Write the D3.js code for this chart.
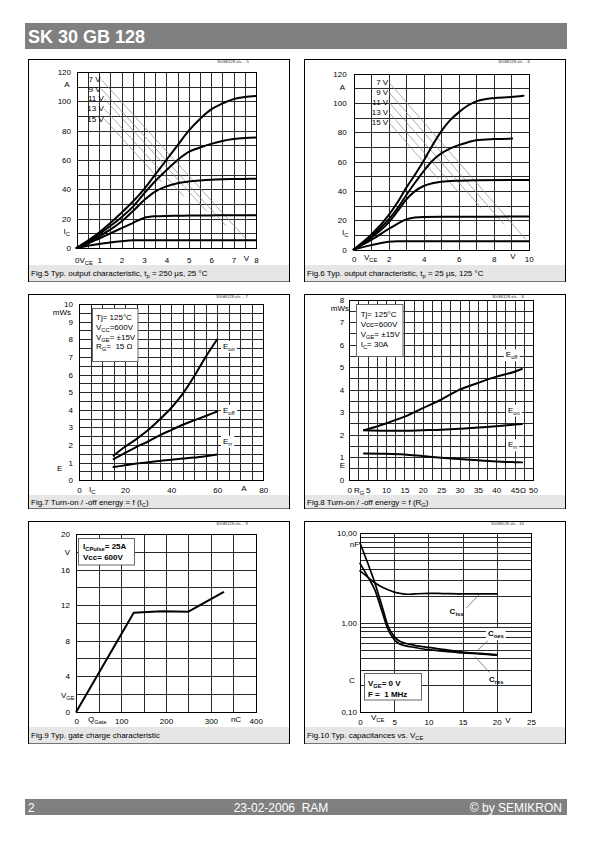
<!DOCTYPE html>
<html><head><meta charset="utf-8">
<script src="https://cdn.jsdelivr.net/npm/d3@7"></script>
<style>body{margin:0;background:#fff}svg{display:block}</style>
</head><body>
<script>
// ---------------- DATA ----------------
// Fig.5 output characteristic 25 °C
const fig5Vce = [0,0.5,1,1.5,2,2.5,3,3.5,4,4.5,5,5.5,6,6.5,7,7.5,8];
const fig5Ic15 = [0,5,10.5,17,24,31.5,40,50,60,70,80,88,94.5,98.5,101.5,103,103.7];
const fig5Ic13 = [0,4.5,9.5,15,21,28,37,45.5,53,60,65.5,68.5,71,73,74.3,75,75.3];
const fig5Ic11 = [0,4,8,12.5,18,25,32.5,38.5,42,44.2,45.3,46,46.5,46.8,47,47.1,47.2];
const fig5Ic9  = [0,3,6.5,10,13.5,17,20.5,21.6,21.9,22,22.1,22.2,22.2,22.3,22.3,22.4,22.4];
const fig5Ic7  = [0,1.5,2.8,3.8,4.6,5.2,5.3,5.3,5.3,5.3,5.3,5.3,5.3,5.3,5.3,5.3,5.3];
const fig5LeadLabels = ["7 V","9 V","11 V","13 V","15 V"];
const fig5LeadStartV = [1.09,1.09,1.23,1.23,1.23];
const fig5LeadStartA = [115,108.6,101.8,95,88.1];
const fig5LeadEndV = [7.6,6.67,5.8,4.79,3.79];
const fig5LeadEndA = [5.5,15,25,35,45];
const fig5XTicks = [0,1,2,3,4,5,6,7,8];
const fig5YTicks = [0,20,40,60,80,100,120];

// Fig.6 output characteristic 125 °C
const fig6Vce15 = [0,1,2,2.5,3,3.5,4,4.5,5,5.5,6,6.5,7,7.5,8,9,9.7];
const fig6Ic15  = [0,10,23.5,32,42,51,60.5,71,80.5,88,93.5,98,101,102.5,103.2,104,104.8];
const fig6Vce13 = [0,1,2,2.5,3,3.5,4,4.5,5,5.5,6,6.5,7,8,9.05];
const fig6Ic13  = [0,9,20.5,28,37,45.5,53.5,60.5,65.5,68.8,71.2,73,74.5,75.3,75.6];
const fig6Vce11 = [0,1,2,2.5,3,3.5,4,4.5,5,6,7,10];
const fig6Ic11  = [0,8,18.5,26,34,39.8,43.3,45.2,46.2,46.9,47.2,47.4];
const fig6Vce9  = [0,1,2,2.5,3,3.5,4,6,10];
const fig6Ic9   = [0,6.5,14,17.5,20.5,21.9,22.2,22.3,22.5];
const fig6Vce7  = [0,1,1.5,2,2.5,10];
const fig6Ic7   = [0,3,4.3,5.3,5.6,5.6];
const fig6LeadLabels = ["7 V","9 V","11 V","13 V","15 V"];
const fig6LeadStartV = [2,2,2,2,2];
const fig6LeadStartA = [114.2,107.4,100.6,93.7,86.9];
const fig6LeadEndV = [9.83,8.6,7.3,6.07,4.84];
const fig6LeadEndA = [6.9,17,28,38,48];
const fig6XTicks = [0,2,4,6,8,10];
const fig6YTicks = [0,20,40,60,80,100,120];

// Fig.7 energy vs Ic
const fig7Ic   = [15,20,25,30,35,40,45,50,55,60];
const fig7Eon  = [1.4,1.9,2.35,2.85,3.45,4.1,4.9,5.9,7.0,8.0];
const fig7Eoff = [1.2,1.55,1.9,2.2,2.55,2.85,3.15,3.4,3.65,3.9];
const fig7Err  = [0.75,0.85,0.95,1.03,1.1,1.17,1.23,1.29,1.37,1.46];
const fig7XTicks = [0,20,40,60,80];
const fig7YTicks = [0,1,2,3,4,5,6,7,8,9,10];

// Fig.8 energy vs Rg
const fig8Rg   = [4,10,15,20,25,30,35,40,45,47];
const fig8Eoff = [2.2,2.5,2.8,3.18,3.56,4.0,4.3,4.58,4.8,4.92];
const fig8Eon  = [2.2,2.18,2.18,2.2,2.22,2.26,2.32,2.38,2.45,2.48];
const fig8Err  = [1.16,1.15,1.12,1.05,0.98,0.92,0.86,0.81,0.78,0.77];
const fig8XTicks = [0,5,10,15,20,25,30,35,40,45,50];
const fig8YTicks = [0,1,2,3,4,5,6,7,8];

// Fig.9 gate charge
const fig9Q   = [0,128,190,250,328];
const fig9Vge = [0,11.15,11.3,11.25,13.45];
const fig9XTicks = [0,100,200,300,400];
const fig9YTicks = [0,4,8,12,16,20];

// Fig.10 capacitances
const fig10VA = [0,1.1,2.2,3.2,4.1,5,5.8,6.6,8,10,12.5,15,17.5,20];
const fig10Coes = [7.8,4.7,2.75,1.55,0.92,0.70,0.62,0.59,0.56,0.53,0.50,0.47,0.455,0.44];
const fig10Cres = [4.6,3.3,2.3,1.35,0.84,0.65,0.58,0.555,0.53,0.50,0.48,0.46,0.45,0.435];
const fig10VB = [0,1,2,3,4,5,6,7,8,10,12,15,20];
const fig10Ciss = [3.8,3.3,2.85,2.55,2.35,2.2,2.12,2.08,2.1,2.13,2.12,2.1,2.1];
const fig10XTicks = [0,5,10,15,20,25];
const fig10YTicks = [0.1,1,10];
const fig10YLabels = ["0,10","1,00","10,00"];

// ---------------- DRAWING ----------------
const FONT = '"Liberation Sans", Arial, Helvetica, sans-serif';
const svg = d3.select("body").append("svg").attr("width",595).attr("height",842)
  .attr("font-family",FONT);

function rich(g, x, y, str, size, o = {}) {
  const t = g.append("text").attr("x", x).attr("y", y + size*0.35)
    .attr("font-size", size).attr("text-anchor", o.anchor || "start")
    .attr("fill", o.fill || "#000").style("white-space","pre");
  if (o.bold) t.attr("font-weight", "bold");
  const re = /_\{([^}]*)\}|([^_]+)/g; let m, sh = 0;
  const s = size*0.25;
  while ((m = re.exec(str))) {
    if (m[1] !== undefined) {
      t.append("tspan").attr("font-size", size*0.72).attr("dy", s - sh).text(m[1]); sh = s;
    } else {
      t.append("tspan").attr("dy", -sh).text(m[2]); sh = 0;
    }
  }
  return t;
}
function labelBox(g, x, y, str, size, o = {}) {
  const t = rich(g, x, y, str, size, o);
  const b = t.node().getBBox();
  g.insert("rect", () => t.node()).attr("x", b.x-2).attr("y", b.y-1)
    .attr("width", b.width+4).attr("height", b.height+2).attr("fill", "#fff");
  return t;
}
function frame(b, caption, tag) {
  const [x0,y0,x1,y1,bt] = b;
  svg.append("rect").attr("x",x0+0.5).attr("y",y0+0.5).attr("width",x1-x0).attr("height",y1-y0)
    .attr("fill","#fff").attr("stroke","#000");
  svg.append("rect").attr("x",x0+1).attr("y",bt).attr("width",x1-x0-1).attr("height",y1-bt+0.5)
    .attr("fill","#e6e6e6");
  rich(svg, x0+3, (bt+y1)/2+0.5, caption, 8);
  svg.append("text").attr("x",tag[0]).attr("y",tag[1]).attr("font-size",4.3)
    .attr("text-anchor","end").attr("fill","#333").style("white-space","pre")
    .text("30GB128.xls  " + tag[2]);
}
function grid(g, x, y, xs, ys) {
  const [yb, yt] = y.range(), [xl, xr] = x.range();
  g.append("g").selectAll("line").data(xs).join("line")
    .attr("x1", d => Math.round(x(d))+0.5).attr("x2", d => Math.round(x(d))+0.5)
    .attr("y1", yb).attr("y2", yt).attr("stroke","#2a2a2a").attr("stroke-width",1)
    .attr("shape-rendering","crispEdges");
  g.append("g").selectAll("line").data(ys).join("line")
    .attr("y1", d => Math.round(y(d))+0.5).attr("y2", d => Math.round(y(d))+0.5)
    .attr("x1", xl).attr("x2", xr).attr("stroke","#2a2a2a").attr("stroke-width",1)
    .attr("shape-rendering","crispEdges");
  g.append("rect").attr("x", Math.round(xl)+0.5).attr("y", Math.round(yt)+0.5)
    .attr("width", Math.round(xr)-Math.round(xl)).attr("height", Math.round(yb)-Math.round(yt))
    .attr("fill","none").attr("stroke","#000").attr("shape-rendering","crispEdges");
}
function curve(g, x, y, xs, ys, w = 2, smooth = true) {
  const pts = xs.map((v,i) => [v, ys[i]]);
  g.append("path").attr("d", d3.line().x(d => x(d[0])).y(d => y(d[1]))
      .curve(smooth ? d3.curveMonotoneX : d3.curveLinear)(pts))
    .attr("fill","none").attr("stroke","#000").attr("stroke-width",w)
    .attr("stroke-linejoin","round").attr("stroke-linecap","round");
}
function yLabels(g, y, ticks, xPlot, pad, fmt) {
  const a = g.append("g").attr("transform",`translate(${xPlot},0)`)
    .call(d3.axisLeft(y).tickValues(ticks).tickSize(0).tickPadding(pad).tickFormat(fmt || d3.format("d")));
  a.select(".domain").remove(); a.attr("font-family", null).attr("font-size", 8);
  a.selectAll("text").attr("fill","#000");
}
function xLabels(g, x, ticks, yPlot, yCenter, fmt) {
  const a = g.append("g").attr("transform",`translate(0,${yPlot})`)
    .call(d3.axisBottom(x).tickValues(ticks).tickSize(0).tickPadding(yCenter - yPlot - 2.8).tickFormat(fmt || d3.format("d")));
  a.select(".domain").remove(); a.attr("font-family", null).attr("font-size", 8);
  a.selectAll("text").attr("fill","#000");
}
function leaders(g, x, y, sv, sa, ev, ea, labels) {
  g.append("g").selectAll("line").data(sv).join("line")
    .attr("x1", (d,i) => x(d)).attr("y1", (d,i) => y(sa[i]))
    .attr("x2", (d,i) => x(ev[i])).attr("y2", (d,i) => y(ea[i]))
    .attr("stroke","#8a8a8a").attr("stroke-width",0.7);
  labels.forEach((l,i) => rich(g, x(sv[i]) - 0.5, y(sa[i]), l, 8, {anchor:"end"}));
}

// header / footer
svg.append("rect").attr("x",25).attr("y",23).attr("width",542).attr("height",26).attr("fill","#808080");
svg.append("text").attr("x",28).attr("y",42.5).attr("font-size",18).attr("font-weight","bold")
  .attr("fill","#fff").text("SK 30 GB 128");
svg.append("rect").attr("x",25).attr("y",799).attr("width",542).attr("height",16).attr("fill","#808080");
svg.append("text").attr("x",28).attr("y",811.5).attr("font-size",12).attr("fill","#fff").text("2");
svg.append("text").attr("x",281).attr("y",811.5).attr("font-size",12).attr("fill","#fff")
  .attr("text-anchor","middle").style("white-space","pre").text("23-02-2006  RAM");
svg.append("text").attr("x",562).attr("y",811.5).attr("font-size",12).attr("fill","#fff")
  .attr("text-anchor","end").text("© by SEMIKRON");

// ---------- Fig.5 ----------
{
  frame([28,59,289,281,265], "Fig.5 Typ. output characteristic, t_{p} = 250 µs, 25 °C", [249,62.5,"- 5"]);
  const g = svg.append("g");
  const x = d3.scaleLinear([0,8],[76.7,256]), y = d3.scaleLinear([0,120],[248,72]);
  grid(g, x, y, d3.range(0,8.01,0.5), d3.range(0,120.1,10));
  leaders(g, x, y, fig5LeadStartV, fig5LeadStartA, fig5LeadEndV, fig5LeadEndA, fig5LeadLabels);
  [fig5Ic7, fig5Ic9, fig5Ic11, fig5Ic13, fig5Ic15].forEach(a => curve(g, x, y, fig5Vce, a));
  yLabels(g, y, fig5YTicks, 76.7, 5.7);
  xLabels(g, x, fig5XTicks, 248, 260);
  rich(g, 67, 84, "A", 8, {anchor:"middle"});
  rich(g, 63.5, 231.5, "I_{C}", 8);
  rich(g, 79.5, 260, "V_{CE}", 8);
  rich(g, 246.5, 258, "V", 8, {anchor:"middle"});
}
// ---------- Fig.6 ----------
{
  frame([304,59,565,281,265], "Fig.6 Typ. output characteristic, t_{p} = 25 µs, 125 °C", [530,62.5,"- 6"]);
  const g = svg.append("g");
  const x = d3.scaleLinear([0,10],[353.7,528.7]), y = d3.scaleLinear([0,120],[249.5,73.5]);
  grid(g, x, y, d3.range(0,10.01,1), d3.range(0,120.1,10));
  leaders(g, x, y, fig6LeadStartV, fig6LeadStartA, fig6LeadEndV, fig6LeadEndA, fig6LeadLabels);
  curve(g, x, y, fig6Vce7, fig6Ic7); curve(g, x, y, fig6Vce9, fig6Ic9);
  curve(g, x, y, fig6Vce11, fig6Ic11); curve(g, x, y, fig6Vce13, fig6Ic13);
  curve(g, x, y, fig6Vce15, fig6Ic15);
  yLabels(g, y, fig6YTicks, 353.7, 7);
  xLabels(g, x, fig6XTicks, 249.5, 259);
  rich(g, 342.3, 87.3, "A", 8, {anchor:"middle"});
  rich(g, 342, 232, "I_{C}", 8);
  rich(g, 364, 257, "V_{CE}", 8);
  rich(g, 513, 256, "V", 8, {anchor:"middle"});
}
// ---------- Fig.7 ----------
{
  frame([28,294,289,508,495], "Fig.7 Turn-on / -off energy = f (I_{C})", [248,297.5,"- 7"]);
  const g = svg.append("g");
  const x = d3.scaleLinear([0,80],[79,263.3]), y = d3.scaleLinear([0,10],[480.3,304]);
  grid(g, x, y, d3.range(0,80.1,5), d3.range(0,10.01,0.5));
  curve(g, x, y, fig7Ic, fig7Eon); curve(g, x, y, fig7Ic, fig7Eoff); curve(g, x, y, fig7Ic, fig7Err);
  yLabels(g, y, fig7YTicks, 79, 6);
  xLabels(g, x, fig7XTicks, 480.3, 490);
  const lg = g.append("g");
  lg.append("rect").attr("x",92.5).attr("y",308.5).attr("width",45.5).attr("height",53)
    .attr("fill","#fff").attr("stroke","#666");
  ["Tj= 125°C","V_{CC}=600V","V_{GE}= ±15V","R_{G}=  15 Ω"].forEach((s,i) =>
    rich(lg, 96, 317.5 + i*9.6, s, 8));
  labelBox(g, x(62.5), y(7.62), "E_{on}", 8);
  labelBox(g, x(62.5), y(4.0), "E_{off}", 8);
  labelBox(g, x(62.5), y(2.23), "E_{rr}", 8);
  rich(g, 71, 312, "mWs", 8, {anchor:"end"});
  rich(g, 59.7, 468, "E", 8, {anchor:"middle"});
  rich(g, 89, 489, "I_{C}", 8);
  rich(g, 244, 488, "A", 8, {anchor:"middle"});
}
// ---------- Fig.8 ----------
{
  frame([304,294,565,508,495], "Fig.8 Turn-on / -off energy = f (R_{G})", [524,297.5,"- 8"]);
  const g = svg.append("g");
  const x = d3.scaleLinear([0,50],[349.3,533]), y = d3.scaleLinear([0,8],[479.7,299.7]);
  grid(g, x, y, d3.range(0,50.1,2.5), d3.range(0,8.01,0.5));
  curve(g, x, y, fig8Rg, fig8Eoff); curve(g, x, y, fig8Rg, fig8Eon); curve(g, x, y, fig8Rg, fig8Err);
  yLabels(g, y, fig8YTicks, 349.3, 5);
  xLabels(g, x, fig8XTicks, 479.7, 490);
  const lg = g.append("g");
  lg.append("rect").attr("x",356.5).attr("y",304.5).attr("width",46.5).attr("height",52)
    .attr("fill","#fff").attr("stroke","#666");
  ["Tj= 125°C","Vcc=600V","V_{GE}= ±15V","I_{C}= 30A"].forEach((s,i) =>
    rich(lg, 360.7, 313.7 + i*10, s, 8));
  labelBox(g, x(42.6), y(5.56), "E_{off}", 8);
  labelBox(g, x(43.2), y(3.11), "E_{on}", 8);
  labelBox(g, x(43.2), y(1.56), "E_{rr}", 8);
  rich(g, 349, 308, "mWs", 8, {anchor:"end"});
  rich(g, 342.5, 465, "E", 8, {anchor:"middle"});
  rich(g, 354, 490, "R_{G}", 8);
  rich(g, 523, 490, "Ω", 8, {anchor:"middle"});
}
// ---------- Fig.9 ----------
{
  frame([28,521,289,743,727], "Fig.9 Typ. gate charge characteristic", [248,524.5,"- 9"]);
  const g = svg.append("g");
  const x = d3.scaleLinear([0,400],[76.3,255.7]), y = d3.scaleLinear([0,20],[711.7,534]);
  grid(g, x, y, d3.range(0,400.1,50), d3.range(0,20.01,2));
  curve(g, x, y, fig9Q, fig9Vge, 2, false);
  yLabels(g, y, fig9YTicks, 76.3, 6.3);
  xLabels(g, x, fig9XTicks, 711.7, 721);
  const lg = g.append("g");
  lg.append("rect").attr("x",78.5).attr("y",538.5).attr("width",56).attr("height",26.5)
    .attr("fill","#fff").attr("stroke","#666");
  rich(lg, 83, 546, "I_{CPulse}= 25A", 8, {bold:true});
  rich(lg, 83, 557.5, "Vcc= 600V", 8, {bold:true});
  rich(g, 67.3, 552.3, "V", 8, {anchor:"middle"});
  rich(g, 61, 695, "V_{GE}", 8);
  rich(g, 88, 719.5, "Q_{Gate}", 8);
  rich(g, 236, 719, "nC", 8, {anchor:"middle"});
}
// ---------- Fig.10 ----------
{
  frame([304,521,565,743,727], "Fig.10 Typ. capacitances vs. V_{CE}", [524,524.5,"-10"]);
  const g = svg.append("g");
  const x = d3.scaleLinear([0,25],[360,531]), y = d3.scaleLog([0.1,10],[712.3,533.2]);
  const logGrid = d3.range(1,10).map(d => d/10).concat(d3.range(1,11));
  grid(g, x, y, d3.range(0,25.1,5), logGrid);
  curve(g, x, y, fig10VB, fig10Ciss, 1.7);
  curve(g, x, y, fig10VA, fig10Coes, 1.7);
  curve(g, x, y, fig10VA, fig10Cres, 1.7);
  yLabels(g, y, fig10YTicks, 360, 3, (d,i) => fig10YLabels[i]);
  xLabels(g, x, fig10XTicks, 712.3, 722);
  const lead = [[15.5,1.45,17.5,2.08],[18.7,0.63,17.25,0.50],[18.9,0.28,16.8,0.42]];
  g.append("g").selectAll("line").data(lead).join("line")
    .attr("x1", d => x(d[0])).attr("y1", d => y(d[1])).attr("x2", d => x(d[2])).attr("y2", d => y(d[3]))
    .attr("stroke","#555").attr("stroke-width",0.7);
  rich(g, x(13.1), y(1.33), "C_{iss}", 8, {bold:true});
  labelBox(g, x(18.7), y(0.76), "C_{oes}", 8, {bold:true});
  rich(g, x(18.86), y(0.233), "C_{res}", 8, {bold:true});
  const lg = g.append("g");
  lg.append("rect").attr("x",364.5).attr("y",673.5).attr("width",57).attr("height",26.5)
    .attr("fill","#fff").attr("stroke","#666");
  rich(lg, 368, 683, "V_{GE}= 0 V", 8, {bold:true});
  rich(lg, 368, 694, "F =  1 MHz", 8, {bold:true});
  rich(g, 354.5, 544, "nF", 8, {anchor:"middle"});
  rich(g, 352, 680, "C", 8, {anchor:"middle"});
  rich(g, 371, 717, "V_{CE}", 8);
  rich(g, 508, 720, "V", 8, {anchor:"middle"});
}
</script>
</body></html>
